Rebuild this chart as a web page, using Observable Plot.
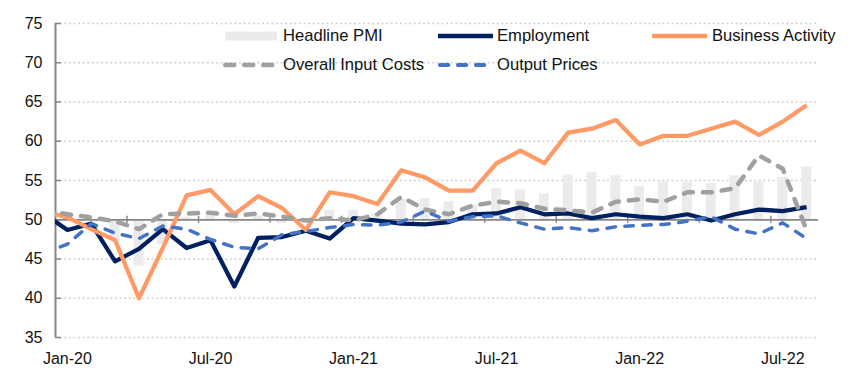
<!DOCTYPE html>
<html><head><meta charset="utf-8">
<script src="https://cdn.jsdelivr.net/npm/d3@7"></script>
<script src="https://cdn.jsdelivr.net/npm/@observablehq/plot@0.6"></script>
<style>
body{margin:0;background:#fff;}
#wrap{position:relative;width:855px;height:375px;font-family:"Liberation Sans",Arial,sans-serif;}
#legend{position:absolute;left:0;top:0;width:855px;height:80px;pointer-events:none;}
.sw{position:absolute;}
.lt{position:absolute;font-size:16.6px;line-height:18px;color:#111;white-space:nowrap;}
</style></head>
<body><div id="wrap"><div id="chart"></div><div id="legend"></div></div>
<script>
// Months (Dec-19 only feeds the clipped start of the lines)
const months = ["Dec-19","Jan-20","Feb-20","Mar-20","Apr-20","May-20","Jun-20","Jul-20","Aug-20","Sep-20","Oct-20","Nov-20","Dec-20",
  "Jan-21","Feb-21","Mar-21","Apr-21","May-21","Jun-21","Jul-21","Aug-21","Sep-21","Oct-21","Nov-21","Dec-21",
  "Jan-22","Feb-22","Mar-22","Apr-22","May-22","Jun-22","Jul-22","Aug-22"];
const headlinePMI = [null,50.9,49.9,47.2,44.1,46.8,50.3,50.6,49.5,50.5,49.5,50.1,51.2,51.2,50.8,52.6,52.7,52.3,51.9,54.0,53.8,53.3,55.7,56.0,55.6,54.2,54.8,54.8,54.6,55.6,54.8,55.4,56.7];
const employment = [50.8,48.7,49.5,44.7,46.3,48.8,46.4,47.4,41.5,47.7,47.8,48.6,47.6,50.2,49.9,49.5,49.4,49.7,50.7,50.8,51.6,50.7,50.8,50.2,50.7,50.4,50.2,50.7,49.9,50.7,51.3,51.1,51.6];
const businessActivity = [51.1,50.3,48.8,47.4,40.0,46.4,53.1,53.8,50.7,53.0,51.5,48.7,53.5,53.0,52.0,56.3,55.4,53.7,53.7,57.2,58.8,57.2,61.1,61.6,62.7,59.6,60.7,60.7,61.6,62.5,60.8,62.5,64.6];
const inputCosts = [51.3,50.7,50.3,49.8,48.8,50.7,50.8,50.9,50.5,50.8,50.4,49.9,50.2,49.9,50.7,52.9,51.3,50.7,51.8,52.3,52.1,51.4,51.2,50.9,52.3,52.6,52.3,53.5,53.5,54.0,58.2,56.5,48.7];
const outputPrices = [45.7,46.9,49.5,48.3,47.6,49.2,48.8,47.5,46.5,46.3,48.1,48.5,49.0,49.4,49.3,49.7,51.1,49.8,50.4,50.5,49.6,48.8,49.0,48.6,49.1,49.3,49.4,49.8,50.4,48.8,48.2,49.6,47.6];
const xTickLabels = ["Jan-20","Jul-20","Jan-21","Jul-21","Jan-22","Jul-22"];
const yTicks = [35,40,45,50,55,60,65,70,75];

const seriesNames = ["Headline PMI","Employment","Business Activity","Overall Input Costs","Output Prices"];
const colors = {bar:"#ebebeb", emp:"#002060", bus:"#ff9966", inp:"#a0a0a0", out:"#4472c4"};

// index: Jan-20 = 0
const idx = months.map((m, i) => i - 1);
const rows = (vals) => vals.map((v, i) => ({i: idx[i], v})).filter(d => d.v != null);
const bars = rows(headlinePMI);
const firstIdx = 0, lastIdx = months.length - 2;
const tickIdx = xTickLabels.map(l => months.indexOf(l) - 1);
// quarter boundaries between categories
const boundaries = idx.filter(i => i > 0 && i % 3 === 0 && i <= lastIdx).map(i => i - 0.5);
const xDomain = [firstIdx - 0.5, lastIdx + 0.5];
const axisColor = "#868686";

const lineMark = (vals, stroke, w, dash) => Plot.line(rows(vals), {
  x: "i", y: "v", stroke, strokeWidth: w, strokeDasharray: dash,
  strokeLinejoin: "round", strokeLinecap: dash ? "round" : "butt", clip: true
});

const chart = Plot.plot({
  width: 855, height: 375,
  marginLeft: 55, marginRight: 37, marginTop: 23, marginBottom: 38,
  style: {fontFamily: '"Liberation Sans", Arial, sans-serif', fontSize: "16px", color: "#111", background: "#fff", overflow: "visible"},
  x: {domain: xDomain},
  y: {domain: [yTicks[0], yTicks[yTicks.length - 1]]},
  marks: [
    Plot.ruleY(yTicks.filter(v => v !== 50), {y: d => d, stroke: "#cfcfcf", strokeWidth: 1.5, strokeDasharray: "2,2.6"}),
    Plot.rect(bars, {x1: d => d.i - 0.21, x2: d => d.i + 0.21, y1: 50, y2: "v", fill: colors.bar}),
    Plot.ruleY([50], {stroke: axisColor, strokeWidth: 1.75}),
    Plot.ruleX([xDomain[0]], {y1: yTicks[0], y2: yTicks[yTicks.length - 1], stroke: axisColor, strokeWidth: 2}),
    Plot.ruleY(yTicks, {y: d => d, x1: xDomain[0], x2: xDomain[0] + 0.25, stroke: axisColor, strokeWidth: 1.5}),
    Plot.ruleX(boundaries, {x: d => d, y1: 49.55, y2: 50.45, stroke: axisColor, strokeWidth: 1.5}),
    Plot.axisY({ticks: yTicks, tickSize: 0, tickPadding: 13, label: null, fontSize: 16}),
    Plot.axisX({ticks: tickIdx, tickFormat: d => xTickLabels[tickIdx.indexOf(d)], tickSize: 0, tickPadding: 15, label: null, fontSize: 16}),
    lineMark(employment, colors.emp, 4.25, null),
    lineMark(businessActivity, colors.bus, 4.25, null),
    lineMark(inputCosts, colors.inp, 4.5, "9,10"),
    lineMark(outputPrices, colors.out, 3.5, "8.5,9.5")
  ]
});
document.getElementById("chart").appendChild(chart);

// Legend overlay (inside plot area like the reference)
const legendItems = [
  {name: seriesNames[0], type: "bar", color: colors.bar, sx: 222, tx: 283, y: 36},
  {name: seriesNames[1], type: "line", color: colors.emp, w: 4.5, sx: 437, tx: 497, y: 36},
  {name: seriesNames[2], type: "line", color: colors.bus, w: 4.5, sx: 651, tx: 712, y: 36},
  {name: seriesNames[3], type: "line", color: colors.inp, w: 4.5, dash: "9,10", sx: 222, tx: 283, y: 65},
  {name: seriesNames[4], type: "line", color: colors.out, w: 3.8, dash: "8.5,9.5", sx: 437, tx: 497, y: 65}
];
const lg = document.getElementById("legend");
const NS = "http://www.w3.org/2000/svg";
for (const it of legendItems) {
  const svg = document.createElementNS(NS, "svg");
  svg.setAttribute("class", "sw");
  svg.setAttribute("width", 58); svg.setAttribute("height", 16);
  svg.style.left = it.sx + "px"; svg.style.top = (it.y - 8) + "px";
  if (it.type === "bar") {
    const r = document.createElementNS(NS, "rect");
    r.setAttribute("x", 3); r.setAttribute("y", 3.5); r.setAttribute("width", 52); r.setAttribute("height", 9);
    r.setAttribute("fill", it.color);
    svg.appendChild(r);
  } else {
    const l = document.createElementNS(NS, "line");
    const cap = it.dash ? it.w / 2 : 0;
    l.setAttribute("x1", 1 + cap); l.setAttribute("x2", 56 - cap);
    l.setAttribute("y1", 8); l.setAttribute("y2", 8);
    l.setAttribute("stroke", it.color); l.setAttribute("stroke-width", it.w);
    if (it.dash) { l.setAttribute("stroke-dasharray", it.dash); l.setAttribute("stroke-linecap", "round"); }
    svg.appendChild(l);
  }
  lg.appendChild(svg);
  const t = document.createElement("div");
  t.className = "lt";
  t.textContent = it.name;
  t.style.left = it.tx + "px"; t.style.top = (it.y - 9) + "px";
  lg.appendChild(t);
}
</script>
</body></html>
